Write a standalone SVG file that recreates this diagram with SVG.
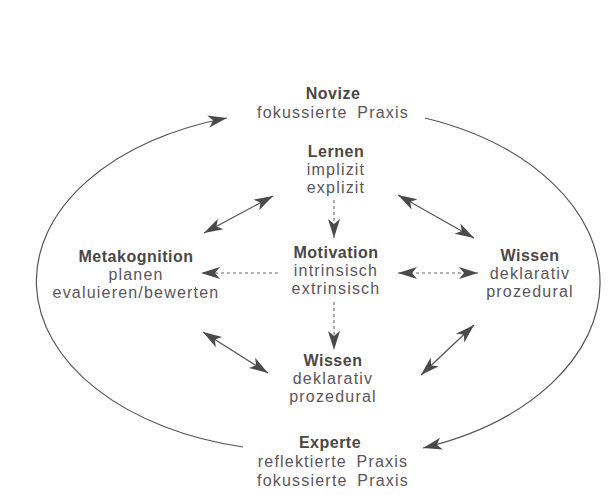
<svg xmlns="http://www.w3.org/2000/svg" width="614" height="495" viewBox="0 0 614 495">
<style>
  text { font-family: "Liberation Sans", Arial, sans-serif; text-anchor: middle; font-size: 16px; letter-spacing: 1.2px; fill: #5a5560; }
  .t { font-size: 16px; font-weight: bold; letter-spacing: 0.5px; fill: #4a4747; }
  .ws { word-spacing: 4px; }
  .solid { fill: none; stroke: #555; stroke-width: 1.3; }
  .dash { fill: none; stroke: #666; stroke-width: 1.1; stroke-dasharray: 3 3; }
  .arc { fill: none; stroke: #555; stroke-width: 1.2; }
</style>
<defs>
  <marker id="ah" markerUnits="userSpaceOnUse" markerWidth="22" markerHeight="14" refX="19" refY="6.5" orient="auto-start-reverse" viewBox="0 0 22 14">
    <path d="M0,0.5 L19,6.5 L0,12.5 L5,6.5 Z" fill="#4a4a4a"/>
  </marker>
</defs>
<rect width="614" height="495" fill="#ffffff"/>

<g id="connectors">
  <path id="arc-left" class="arc" d="M243,447 A265,170 0 0 1 227,118" marker-end="url(#ah)"/>
  <path id="arc-right" class="arc" d="M425,118 A270,176 0 0 1 423,448" marker-end="url(#ah)"/>
  <line class="dash" x1="334" y1="200" x2="334" y2="238" marker-end="url(#ah)"/>
  <line class="dash" x1="334" y1="302" x2="334" y2="350" marker-end="url(#ah)"/>
  <line class="dash" x1="278" y1="273" x2="201" y2="273" marker-end="url(#ah)"/>
  <line class="dash" x1="398" y1="273" x2="478" y2="273" marker-start="url(#ah)" marker-end="url(#ah)"/>
  <line class="solid" x1="204" y1="233" x2="273" y2="196" marker-start="url(#ah)" marker-end="url(#ah)"/>
  <line class="solid" x1="398" y1="195" x2="474" y2="238" marker-start="url(#ah)" marker-end="url(#ah)"/>
  <line class="solid" x1="203" y1="332" x2="268" y2="373" marker-start="url(#ah)" marker-end="url(#ah)"/>
  <line class="solid" x1="421" y1="375" x2="474" y2="325" marker-start="url(#ah)" marker-end="url(#ah)"/>
</g>

<g id="novize">
  <text class="t" x="333" y="99">Novize</text>
  <text class="ws" x="333" y="118">fokussierte Praxis</text>
</g>
<g id="lernen">
  <text class="t" x="336" y="157">Lernen</text>
  <text x="336" y="175">implizit</text>
  <text x="336" y="193">explizit</text>
</g>
<g id="motivation">
  <text class="t" x="336" y="258">Motivation</text>
  <text x="336" y="276">intrinsisch</text>
  <text x="336" y="294">extrinsisch</text>
</g>
<g id="wissen-mitte">
  <text class="t" x="333" y="366">Wissen</text>
  <text x="333" y="384">deklarativ</text>
  <text x="333" y="402">prozedural</text>
</g>
<g id="metakognition">
  <text class="t" x="136" y="262">Metakognition</text>
  <text x="136" y="280">planen</text>
  <text x="136" y="298">evaluieren/bewerten</text>
</g>
<g id="wissen-rechts">
  <text class="t" x="530" y="261">Wissen</text>
  <text x="530" y="279">deklarativ</text>
  <text x="530" y="297">prozedural</text>
</g>
<g id="experte">
  <text class="t" x="330" y="448">Experte</text>
  <text class="ws" x="333" y="467">reflektierte Praxis</text>
  <text class="ws" x="333" y="486">fokussierte Praxis</text>
</g>
</svg>
